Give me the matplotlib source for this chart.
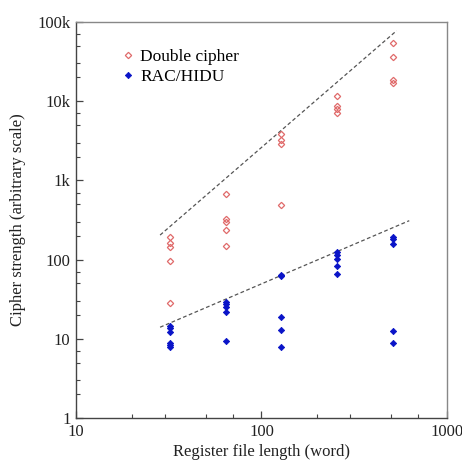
import matplotlib
matplotlib.use('Agg')
import matplotlib.pyplot as plt
from matplotlib.ticker import NullFormatter

# Register file lengths (word)
double_x = [32, 32, 32, 32, 32,
            64, 64, 64, 64, 64,
            128, 128, 128, 128,
            256, 256, 256, 256,
            512, 512, 512, 512]
double_y = [195, 160, 143, 96, 28,
            670, 323, 300, 236, 148,
            3800, 3200, 2850, 490,
            11600, 8700, 7900, 7150,
            53800, 35800, 18500, 17100]

rac_x = [32, 32, 32, 32, 32, 32,
         64, 64, 64, 64, 64,
         128, 128, 128, 128, 128,
         256, 256, 256, 256, 256,
         512, 512, 512, 512, 512]
rac_y = [14.5, 13.6, 12.3, 8.9, 8.35, 7.95,
         29.4, 27.5, 25.4, 22, 9.5,
         64, 62, 19, 12.9, 7.95,
         126, 114, 101, 83, 66,
         195, 180, 156, 12.5, 8.8]

# dashed trend lines (end points)
fit_upper_x = [28.4, 535]
fit_upper_y = [204, 77600]
fit_lower_x = [28.4, 626]
fit_lower_y = [14, 310]

y_ticks = [1, 10, 100, 1000, 10000, 100000]
y_tick_labels = ['1', '10', '100', '1k', '10k', '100k']
x_ticks = [10, 100, 1000]
x_tick_labels = ['10', '100', '1000']

plt.rcParams['font.family'] = ['Liberation Serif', 'DejaVu Serif']

fig = plt.figure(figsize=(4.62, 4.63), dpi=100)
ax = fig.add_axes([0.1645, 0.0972, 0.803, 0.8553])

ax.plot(fit_upper_x, fit_upper_y, linestyle=(0, (3, 2)), color='#555555', linewidth=0.9)
ax.plot(fit_lower_x, fit_lower_y, linestyle=(0, (3, 2)), color='#555555', linewidth=0.9)

ax.plot(double_x, double_y, linestyle='none', marker='D', markersize=3.2,
        markerfacecolor='none', markeredgecolor='#e06a6a', markeredgewidth=0.9,
        label='Double cipher')
ax.plot(rac_x, rac_y, linestyle='none', marker='D', markersize=3.2,
        markerfacecolor='#0a14c8', markeredgecolor='#0a14c8', markeredgewidth=0.6,
        label='RAC/HIDU')

ax.set_xscale('log')
ax.set_yscale('log')
ax.set_xlim(10, 1000)
ax.set_ylim(1, 100000)

ax.set_xticks(x_ticks)
ax.set_xticklabels(x_tick_labels)
ax.set_yticks(y_ticks)
ax.set_yticklabels(y_tick_labels)
ax.set_xticks([20, 30, 50, 70, 200, 300, 500, 700], minor=True)
ax.set_yticks([m * d for d in [1, 10, 100, 1000, 10000] for m in [2, 3, 5, 7]], minor=True)
ax.xaxis.set_minor_formatter(NullFormatter())
ax.yaxis.set_minor_formatter(NullFormatter())

ax.tick_params(which='major', direction='in', length=5, width=0.9, colors='#444444',
               labelsize=12, labelcolor='#222222', pad=4)
ax.tick_params(which='minor', direction='in', length=3, width=0.8, colors='#444444')

for side in ['left', 'bottom']:
    ax.spines[side].set_color('#444444')
    ax.spines[side].set_linewidth(1.0)
for side in ['right', 'top']:
    ax.spines[side].set_color('#888888')
    ax.spines[side].set_linewidth(1.0)

ax.set_xlabel('Register file length (word)', fontsize=12, color='#222222', labelpad=3)
ax.set_ylabel('Cipher strength (arbitrary scale)', fontsize=12, color='#222222', labelpad=8)

ax.legend(loc='upper left', bbox_to_anchor=(0.093, 0.95), frameon=False, fontsize=12.5,
          handletextpad=0.1, labelspacing=0.25, handlelength=1.2, borderaxespad=0)

fig.savefig('out.png', dpi=100)
